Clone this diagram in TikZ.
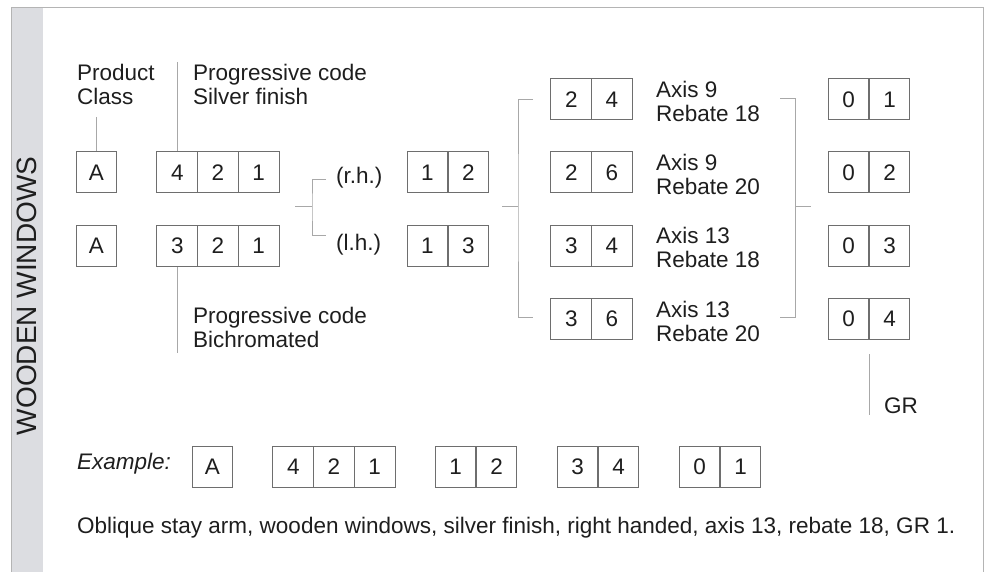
\documentclass[tikz,border=0pt]{standalone}
\usepackage{fontspec}
\setmainfont{Liberation Sans}
\definecolor{boxc}{HTML}{6E6E6E}
\definecolor{linec}{HTML}{A8A8A8}
\definecolor{framec}{HTML}{B4B4B4}
\definecolor{stripc}{HTML}{DCDDE1}
\definecolor{txt}{HTML}{1E1E1E}
\newcommand\dfs{\fontsize{22.5}{24}\selectfont}
\begin{document}
\begin{tikzpicture}[x=1pt,y=-1pt,
  cell/.style={draw=boxc, line width=1pt, minimum width=40.7pt, minimum height=41pt, inner sep=0pt, text=txt, font=\dfs},
  lbl/.style={anchor=west, align=left, inner sep=0pt, text=txt, font=\dfs},
  conn/.style={draw=linec, line width=1pt}]
\useasboundingbox (0,0) rectangle (990,572);
% frame
\fill[stripc] (11,8) rectangle (43,572);
\draw[framec, line width=1pt] (11,572) -- (11,8) -- (983,8) -- (983,572);
\node[rotate=90, text=txt, font=\fontsize{28}{30}\selectfont, inner sep=0pt] (title) at (27,296) {WOODEN WINDOWS};
% row 1
\node[cell] (a1) at (96.5,172.5) {A};
\node[cell] (p1a) at (177.3,172.5) {4};
\node[cell] (p1b) at (218,172.5) {2};
\node[cell] (p1c) at (258.7,172.5) {1};
% row 2
\node[cell] (a2) at (96.5,246) {A};
\node[cell] (p2a) at (177.3,246) {3};
\node[cell] (p2b) at (218,246) {2};
\node[cell] (p2c) at (258.7,246) {1};
% hand
\node[cell] (h1a) at (427.5,172.5) {1};
\node[cell] (h1b) at (468.5,172.5) {2};
\node[cell] (h2a) at (427.5,246) {1};
\node[cell] (h2b) at (468.5,246) {3};
% axis/rebate
\node[cell] (r1a) at (571.3,99.5) {2};
\node[cell] (r1b) at (611.8,99.5) {4};
\node[cell] (r2a) at (571.3,172.5) {2};
\node[cell] (r2b) at (611.8,172.5) {6};
\node[cell] (r3a) at (571.3,246) {3};
\node[cell] (r3b) at (611.8,246) {4};
\node[cell] (r4a) at (571.3,319) {3};
\node[cell] (r4b) at (611.8,319) {6};
% GR
\node[cell] (g1a) at (848.5,99.5) {0};
\node[cell] (g1b) at (889.5,99.5) {1};
\node[cell] (g2a) at (848.5,172.5) {0};
\node[cell] (g2b) at (889.5,172.5) {2};
\node[cell] (g3a) at (848.5,246) {0};
\node[cell] (g3b) at (889.5,246) {3};
\node[cell] (g4a) at (848.5,319) {0};
\node[cell] (g4b) at (889.5,319) {4};
% labels
\node[lbl] (lpc) at (77,84) {Product\\Class};
\node[lbl] (lsf) at (193,84) {Progressive code\\Silver finish};
\node[lbl] (lbc) at (193,327) {Progressive code\\Bichromated};
\node[lbl] (lrh) at (336,178) {(r.h.)};
\node[lbl] (llh) at (336,245) {(l.h.)};
\node[lbl] (ax1) at (656,101) {Axis 9\\Rebate 18};
\node[lbl] (ax2) at (656,174) {Axis 9\\Rebate 20};
\node[lbl] (ax3) at (656,247) {Axis 13\\Rebate 18};
\node[lbl] (ax4) at (656,321) {Axis 13\\Rebate 20};
\node[lbl] (lgr) at (884,406) {GR};
% connectors
\coordinate (pctop) at (96.5,117);
\draw[conn] (pctop) -- (a1.north);
\coordinate (sftop) at (177.3,62);
\draw[conn] (sftop) -- (p1a.north);
\coordinate (bcbot) at (177.3,353);
\draw[conn] (p2a.south) -- (bcbot);
\coordinate (b1in) at (295,207);
\coordinate (b1j) at (312,207);
\coordinate (b1t) at (326,180);
\coordinate (b1b) at (326,235);
\draw[conn] (b1in) -- (b1j);
\draw[conn] (b1t) -| (b1j) |- (b1b);
\coordinate (b2in) at (502,207);
\coordinate (b2j) at (518,207);
\coordinate (b2t) at (533,100);
\coordinate (b2b) at (533,317);
\draw[conn] (b2in) -- (b2j);
\draw[conn] (b2t) -| (b2j) |- (b2b);
\coordinate (b3t) at (780,99);
\coordinate (b3b) at (780,317);
\coordinate (b3j) at (795,207);
\coordinate (b3out) at (811,207);
\draw[conn] (b3t) -| (b3j) |- (b3b);
\draw[conn] (b3j) -- (b3out);
\coordinate (gr1) at (869,354);
\coordinate (gr2) at (869,415);
\draw[conn] (gr1) -- (gr2);
% example
\node[lbl, font=\dfs\itshape] (ex) at (77,464) {Example:};
\node[cell] (ea) at (212.5,467) {A};
\node[cell] (e1a) at (293.3,467) {4};
\node[cell] (e1b) at (334,467) {2};
\node[cell] (e1c) at (374.7,467) {1};
\node[cell] (e2a) at (455.5,467) {1};
\node[cell] (e2b) at (496.5,467) {2};
\node[cell] (e3a) at (577.5,467) {3};
\node[cell] (e3b) at (618.5,467) {4};
\node[cell] (e4a) at (699.5,467) {0};
\node[cell] (e4b) at (740.5,467) {1};
\node[lbl] (sent) at (77,528) {Oblique stay arm, wooden windows, silver finish, right handed, axis 13, rebate 18, GR 1.};
\end{tikzpicture}
\end{document}
